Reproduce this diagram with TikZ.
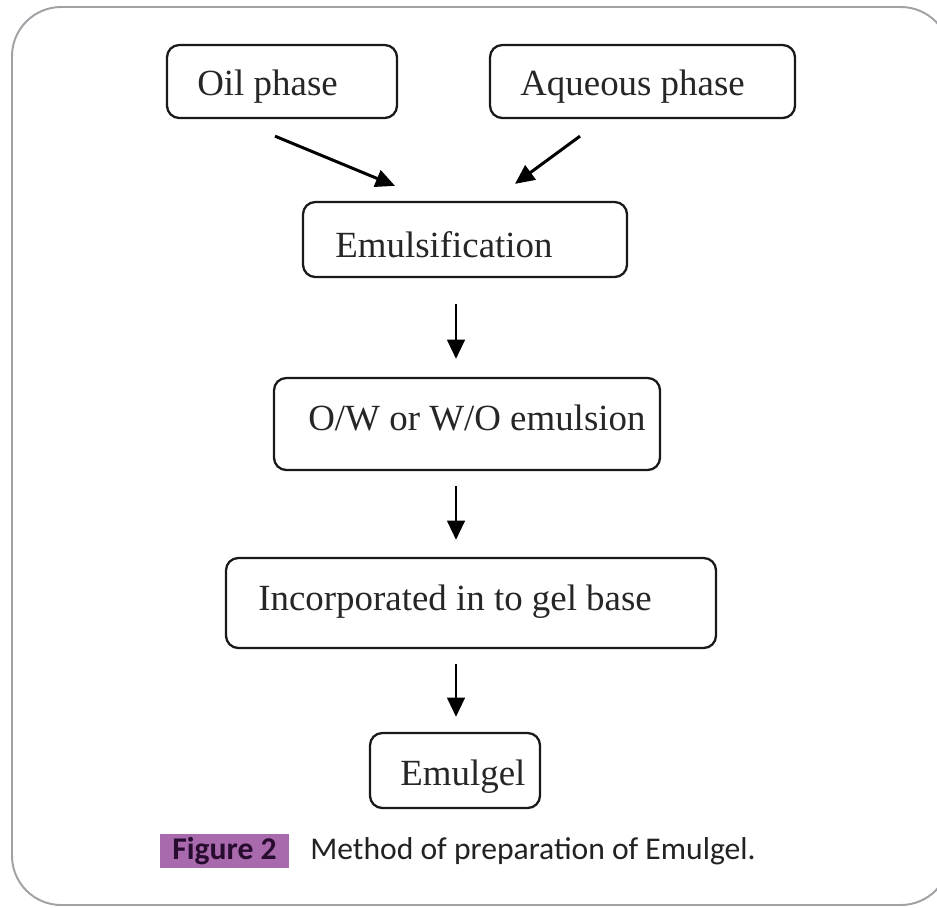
\documentclass[tikz,border=0pt]{standalone}
\usepackage{fontspec}
\setmainfont{Liberation Serif}
\newfontfamily\capfont{Carlito}
\usetikzlibrary{arrows.meta}
\definecolor{framegray}{RGB}{160,160,165}
\definecolor{figpurple}{RGB}{168,106,172}
\definecolor{figtext}{RGB}{40,12,48}
\definecolor{captext}{RGB}{34,34,34}
\tikzset{
  box/.style={draw=black!90, line width=1.3pt, rounded corners=7pt, inner sep=0pt},
  lbl/.style={inner sep=0pt, anchor=base west, text=black!85, font=\fontsize{21}{25}\selectfont},
  flow/.style={line width=1.7pt, -{Triangle[length=11pt,width=10pt]}},
}
\begin{document}
\begin{tikzpicture}[x=0.02cm, y=-0.02cm]
\useasboundingbox (0,0) rectangle (937,907);
\fill[white] (0,0) rectangle (937,907);
\draw[framegray, line width=1.1pt, rounded corners=28pt] (12,7) rectangle (950,905);

% boxes
\node[box, minimum width=230*0.02cm, minimum height=73*0.02cm] (oil) at (282,81.5) {};
\node[box, minimum width=305*0.02cm, minimum height=73*0.02cm] (aq) at (642.5,81.5) {};
\node[box, minimum width=324*0.02cm, minimum height=75*0.02cm] (emul) at (465,239.5) {};
\node[box, minimum width=386*0.02cm, minimum height=92*0.02cm] (ow) at (467,424) {};
\node[box, minimum width=490*0.02cm, minimum height=90*0.02cm] (inc) at (471,603) {};
\node[box, minimum width=170*0.02cm, minimum height=75*0.02cm] (gel) at (455,770.5) {};

% labels
\node[lbl] (toil) at (197,95) {Oil phase};
\node[lbl] (taq) at (520,95) {Aqueous phase};
\node[lbl] (temul) at (335,257) {Emulsification};
\node[lbl] (tow) at (308,430) {O/W or W/O emulsion};
\node[lbl] (tinc) at (258,610) {Incorporated in to gel base};
\node[lbl] (tgel) at (400,785) {Emulgel};

% arrows
\draw[flow] ([shift={(-7,17)}]oil.south) -- ([shift={(-70,-15)}]emul.north);
\draw[flow] ([shift={(-62.5,17)}]aq.south) -- ([shift={(50,-17)}]emul.north);
\draw[flow] ([shift={(-9,26)}]emul.south) -- ([shift={(-11,-18)}]ow.north);
\draw[flow] ([shift={(-11,15)}]ow.south) -- ([shift={(-15,-17)}]inc.north);
\draw[flow] ([shift={(-15,15)}]inc.south) -- ([shift={(1,-15)}]gel.north);

% caption
\node[fill=figpurple, minimum width=129*0.02cm, minimum height=34*0.02cm, inner sep=0pt,
      text=figtext, font=\capfont\bfseries\fontsize{18}{22}\selectfont] (fig) at (224.5,851) {Figure 2};
\node[inner sep=0pt, anchor=west, text=captext, font=\capfont\fontsize{18}{22}\selectfont] (cap) at (310,851) {Method of preparation of Emulgel.};
\end{tikzpicture}
\end{document}
